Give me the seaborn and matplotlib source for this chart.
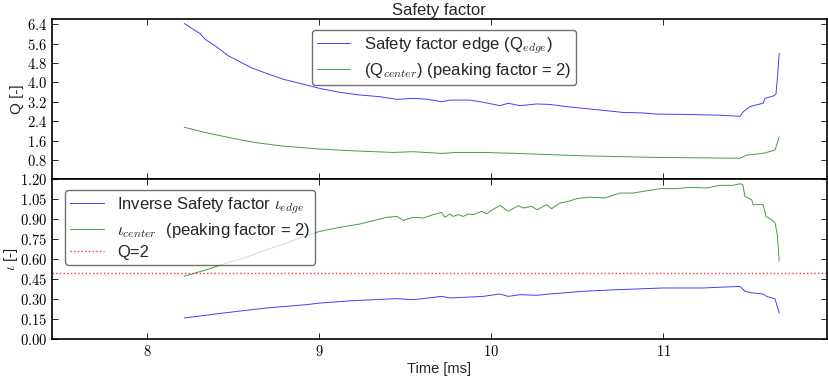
import matplotlib
matplotlib.use("Agg")
import matplotlib.pyplot as plt
import seaborn as sns
from matplotlib.ticker import FuncFormatter, FixedLocator

# ---------------- data ----------------
t_qedge = [8.215, 8.306, 8.335, 8.403, 8.471, 8.539, 8.607, 8.694, 8.791, 8.888,
           9.004, 9.120, 9.237, 9.353, 9.450, 9.547, 9.624, 9.712, 9.760, 9.876,
           9.953, 10.051, 10.099, 10.167, 10.264, 10.341, 10.438, 10.535, 10.632,
           10.767, 10.884, 10.962, 11.116, 11.310, 11.446, 11.465, 11.504, 11.523,
           11.581, 11.591, 11.640, 11.655, 11.665, 11.674]
q_edge = [6.43, 6.02, 5.79, 5.47, 5.10, 4.85, 4.60, 4.37, 4.13, 3.96,
          3.75, 3.59, 3.48, 3.41, 3.30, 3.34, 3.31, 3.20, 3.27, 3.27,
          3.18, 3.04, 3.14, 3.04, 3.11, 3.09, 3.00, 2.93, 2.86,
          2.76, 2.74, 2.69, 2.68, 2.65, 2.60, 2.79, 3.00, 3.04,
          3.14, 3.34, 3.44, 3.51, 4.30, 5.20]

t_qcenter = [8.215, 8.345, 8.500, 8.636, 8.791, 9.004, 9.217, 9.430, 9.547, 9.712,
             9.799, 9.953, 10.148, 10.535, 10.923, 11.446, 11.485, 11.581, 11.650, 11.674]
q_center = [2.15, 1.92, 1.69, 1.51, 1.37, 1.25, 1.17, 1.11, 1.14, 1.07,
            1.11, 1.11, 1.07, 0.97, 0.91, 0.87, 1.00, 1.07, 1.21, 1.76]

t_iedge = [8.215, 8.442, 8.694, 8.927, 9.004, 9.198, 9.450, 9.547, 9.712, 9.760,
           9.953, 10.051, 10.099, 10.167, 10.264, 10.341, 10.535, 10.729, 11.000,
           11.233, 11.446, 11.475, 11.523, 11.581, 11.601, 11.650, 11.674]
iota_edge = [0.160, 0.197, 0.235, 0.260, 0.272, 0.290, 0.305, 0.297, 0.322, 0.310,
             0.322, 0.340, 0.322, 0.335, 0.330, 0.340, 0.360, 0.372, 0.385,
             0.385, 0.397, 0.360, 0.347, 0.340, 0.322, 0.302, 0.197]

t_icenter = [8.215, 8.345, 8.462, 8.578, 8.694, 8.810, 8.927, 9.004, 9.120, 9.237,
             9.314, 9.392, 9.450, 9.488, 9.547, 9.605, 9.663, 9.712, 9.731, 9.760,
             9.779, 9.808, 9.837, 9.866, 9.895, 9.944, 9.973, 10.002, 10.051, 10.099,
             10.157, 10.186, 10.235, 10.267, 10.322, 10.351, 10.399, 10.448, 10.497,
             10.574, 10.661, 10.748, 10.826, 10.884, 10.981, 11.078, 11.155, 11.252,
             11.329, 11.407, 11.446, 11.462, 11.475, 11.514, 11.523, 11.581, 11.597,
             11.630, 11.650, 11.663, 11.674]
iota_center = [0.473, 0.522, 0.572, 0.617, 0.672, 0.722, 0.780, 0.810, 0.840, 0.865,
               0.890, 0.915, 0.922, 0.892, 0.915, 0.910, 0.935, 0.952, 0.915, 0.940,
               0.922, 0.935, 0.922, 0.940, 0.935, 0.960, 0.942, 0.967, 1.005, 0.960,
               1.002, 0.985, 0.997, 0.972, 1.010, 0.980, 1.022, 1.035, 1.055,
               1.067, 1.060, 1.097, 1.097, 1.110, 1.130, 1.130, 1.140, 1.135,
               1.155, 1.155, 1.167, 1.160, 1.072, 1.047, 1.010, 1.010, 0.922,
               0.897, 0.872, 0.785, 0.585]

q2_level = 0.5

top_yticks = [0.8, 1.6, 2.4, 3.2, 4.0, 4.8, 5.6, 6.4]
bot_yticks = [0.00, 0.15, 0.30, 0.45, 0.60, 0.75, 0.90, 1.05, 1.20]
xticks = [8, 9, 10, 11]

# ---------------- style ----------------
sns.set_style("ticks")
plt.rcParams["font.family"] = ["Liberation Sans", "DejaVu Sans"]
plt.rcParams["mathtext.fontset"] = "cm"
plt.rcParams["xtick.direction"] = "in"
plt.rcParams["ytick.direction"] = "in"

fig = plt.figure(figsize=(8.29, 3.77), dpi=100)
ax1 = fig.add_axes([0.063, 0.5243, 0.934, 0.4243])
ax2 = fig.add_axes([0.063, 0.1, 0.934, 0.4243], sharex=ax1)

BLUE = "#0000ff"
GREEN = "#008000"
LW = 0.7

sns.lineplot(x=t_qedge, y=q_edge, ax=ax1, color=BLUE, lw=LW, alpha=0.75,
             label=r"Safety factor edge (Q$_{edge}$)", sort=False, estimator=None)
sns.lineplot(x=t_qcenter, y=q_center, ax=ax1, color=GREEN, lw=LW, alpha=0.75,
             label=r"(Q$_{center}$) (peaking factor = 2)", sort=False, estimator=None)

sns.lineplot(x=t_iedge, y=iota_edge, ax=ax2, color=BLUE, lw=LW, alpha=0.75,
             label=r"Inverse Safety factor $\iota_{edge}$", sort=False, estimator=None)
sns.lineplot(x=t_icenter, y=iota_center, ax=ax2, color=GREEN, lw=LW, alpha=0.75,
             label=r"$\iota_{center}$  (peaking factor = 2)", sort=False, estimator=None)
ax2.axhline(q2_level, color="red", ls=":", lw=1.0, alpha=0.8, label="Q=2")

for ax in (ax1, ax2):
    ax.set_xlim(7.448, 11.949)
    for s in ax.spines.values():
        s.set_linewidth(1.2)
        s.set_color("black")
    ax.tick_params(which="both", top=True, right=True, direction="in",
                   length=4, width=0.6, labelsize=10.5, colors="black")
    ax.xaxis.set_major_locator(FixedLocator(xticks))
    ax.xaxis.set_major_formatter(FuncFormatter(lambda v, p: r"$%d$" % v))
    ax.grid(False)

ax1.set_ylim(0, 6.6)
ax1.yaxis.set_major_locator(FixedLocator(top_yticks))
ax1.yaxis.set_major_formatter(FuncFormatter(lambda v, p: r"$%.1f$" % v))
ax1.tick_params(labelbottom=False)
ax1.set_xlabel("")

ax2.set_ylim(0, 1.2)
ax2.yaxis.set_major_locator(FixedLocator(bot_yticks))
ax2.yaxis.set_major_formatter(FuncFormatter(lambda v, p: r"$%.2f$" % v))

ax1.set_ylabel("Q [-]", fontsize=11, labelpad=2)
ax2.set_ylabel(r"$\iota$ [-]", fontsize=11, labelpad=0)
ax2.set_xlabel("Time [ms]", fontsize=10.5, labelpad=2)
ax1.set_title("Safety factor", fontsize=12, pad=3)

common = dict(fontsize=12, fancybox=True, framealpha=0.7, edgecolor="#333333",
              handlelength=2.0, borderpad=0.3, labelspacing=0.3,
              handletextpad=0.8)
leg1 = ax1.legend(loc="upper center", bbox_to_anchor=(0.506, 0.985), **common)
leg2 = ax2.legend(loc="upper left", bbox_to_anchor=(0.006, 0.985), **common)
for leg in (leg1, leg2):
    leg.get_frame().set_linewidth(1.0)

fig.savefig("out.png", dpi=100)
